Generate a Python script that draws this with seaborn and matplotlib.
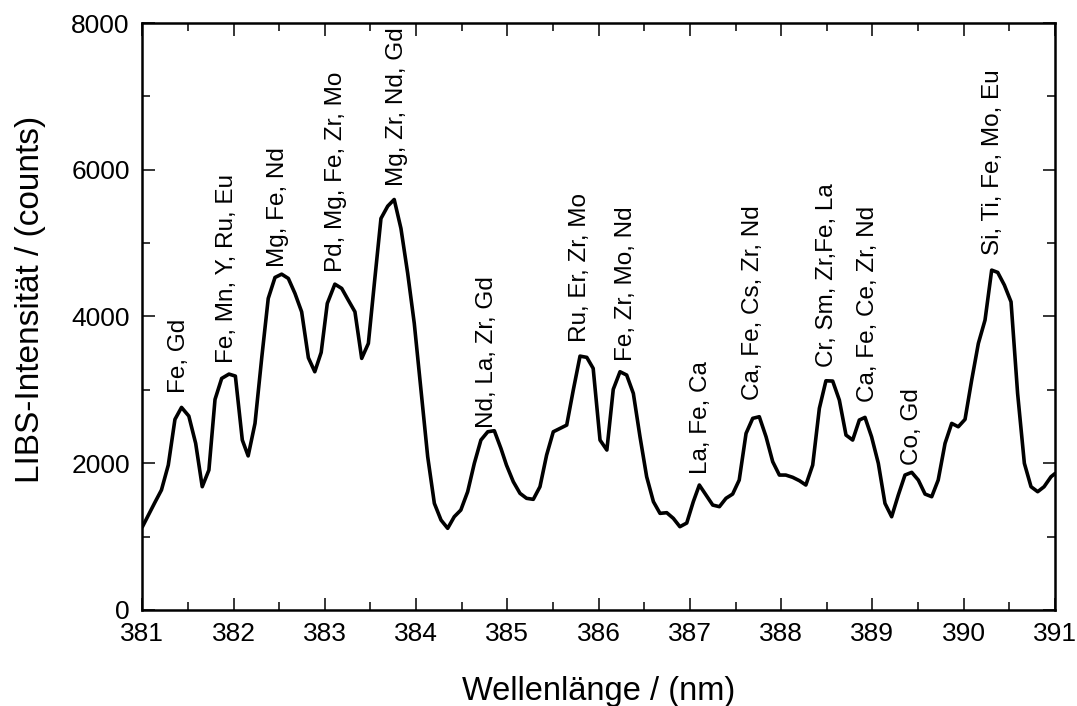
import matplotlib
matplotlib.use("Agg")
import matplotlib.pyplot as plt
import seaborn as sns
import pandas as pd
from matplotlib.ticker import MultipleLocator

wavelength = [
    381.00, 381.07, 381.14, 381.21, 381.285, 381.358, 381.43, 381.51, 381.585, 381.657,
    381.73, 381.797, 381.87, 381.95, 382.02, 382.096, 382.16, 382.235, 382.31, 382.38,
    382.454, 382.527, 382.60, 382.673, 382.746, 382.82, 382.89, 382.96, 383.027, 383.11,
    383.185, 383.257, 383.33, 383.404, 383.477, 383.545, 383.615, 383.689, 383.76, 383.834,
    383.908, 383.98, 384.054, 384.127, 384.20, 384.273, 384.346, 384.418, 384.49, 384.565,
    384.638, 384.71, 384.785, 384.857, 384.93, 384.99, 385.065, 385.138, 385.21, 385.284,
    385.357, 385.43, 385.503, 385.577, 385.65, 385.722, 385.796, 385.87, 385.94, 386.015,
    386.09, 386.16, 386.234, 386.307, 386.38, 386.453, 386.526, 386.60, 386.672, 386.746,
    386.818, 386.89, 386.965, 387.037, 387.103, 387.176, 387.25, 387.323, 387.395, 387.468,
    387.54, 387.615, 387.688, 387.76, 387.834, 387.907, 387.98, 388.05, 388.126, 388.20,
    388.27, 388.345, 388.418, 388.49, 388.564, 388.637, 388.71, 388.783, 388.856, 388.918,
    388.99, 389.064, 389.137, 389.21, 389.283, 389.356, 389.43, 389.502, 389.576, 389.649,
    389.72, 389.795, 389.868, 389.94, 390.014, 390.087, 390.16, 390.233, 390.306, 390.372,
    390.445, 390.518, 390.59, 390.664, 390.737, 390.81, 390.88, 390.956, 391.00,
]
intensity = [
    1130, 1300, 1470, 1635, 1975, 2598, 2761, 2643, 2271, 1680,
    1907, 2870, 3156, 3215, 3188, 2316, 2100, 2543, 3451, 4246,
    4532, 4577, 4519, 4314, 4064, 3437, 3247, 3510, 4178, 4441,
    4383, 4223, 4064, 3429, 3633, 4480, 5336, 5504, 5595, 5200,
    4587, 3906, 2997, 2089, 1453, 1226, 1113, 1271, 1362, 1612,
    1999, 2316, 2429, 2443, 2200, 1975, 1748, 1590, 1522, 1508,
    1680, 2112, 2429, 2475, 2520, 2997, 3460, 3443, 3293, 2316,
    2180, 3007, 3247, 3202, 2952, 2361, 1816, 1476, 1317, 1326,
    1249, 1135, 1185, 1476, 1703, 1567, 1430, 1408, 1522, 1580,
    1771, 2407, 2612, 2634, 2361, 2021, 1839, 1839, 1808, 1762,
    1703, 1975, 2748, 3124, 3120, 2861, 2384, 2316, 2589, 2625,
    2361, 1999, 1453, 1271, 1567, 1839, 1876, 1771, 1580, 1544,
    1771, 2271, 2543, 2497, 2598, 3134, 3633, 3951, 4632, 4601,
    4428, 4200, 2952, 1999, 1680, 1612, 1680, 1816, 1860,
]

peak_labels = [
    "Fe, Gd", "Fe, Mn, Y, Ru, Eu", "Mg, Fe, Nd", "Pd, Mg, Fe, Zr, Mo",
    "Mg, Zr, Nd, Gd", "Nd, La, Zr, Gd", "Ru, Er, Zr, Mo", "Fe, Zr, Mo, Nd",
    "La, Fe, Ca", "Ca, Fe, Cs, Zr, Nd", "Cr, Sm, Zr,Fe, La", "Ca, Fe, Ce, Zr, Nd",
    "Co, Gd", "Si, Ti, Fe, Mo, Eu",
]
label_x = [381.405, 381.93, 382.49, 383.12, 383.787, 384.774, 385.80, 386.30,
           387.12, 387.695, 388.50, 388.955, 389.43, 390.32]
label_y = [2960, 3370, 4680, 4610, 5777, 2480, 3656, 3397,
           1853, 2861, 3315, 2838, 1975, 4837]

x_ticks = [381, 382, 383, 384, 385, 386, 387, 388, 389, 390, 391]
y_ticks = [0, 2000, 4000, 6000, 8000]

sns.set_theme(style="ticks")
plt.rcParams["font.family"] = ["Liberation Sans", "DejaVu Sans"]
plt.rcParams["text.color"] = "black"
plt.rcParams["axes.labelcolor"] = "black"
plt.rcParams["xtick.color"] = "black"
plt.rcParams["ytick.color"] = "black"

df = pd.DataFrame({"wl": wavelength, "I": intensity})

fig = plt.figure(figsize=(10.77, 7.06), dpi=100)
ax = fig.add_axes([0.1321, 0.136, 0.8475, 0.8314])

sns.lineplot(data=df, x="wl", y="I", color="black", linewidth=2.6, ax=ax,
             sort=False, estimator=None)

for txt, lx, ly in zip(peak_labels, label_x, label_y):
    ax.text(lx, ly, txt, rotation=90, ha="center", va="bottom",
            fontsize=17.5, color="black")

ax.set_xlim(381, 391)
ax.set_ylim(0, 8000)
ax.set_xticks(x_ticks)
ax.set_yticks(y_ticks)
ax.xaxis.set_minor_locator(MultipleLocator(0.5))
ax.yaxis.set_minor_locator(MultipleLocator(1000))
ax.tick_params(which="both", direction="in", top=True, right=True,
               labeltop=False, labelright=False, color="black", labelcolor="black")
ax.tick_params(which="major", length=9, width=1.1, labelsize=19, pad=9)
ax.tick_params(which="minor", length=5.5, width=1.1)
for sp in ax.spines.values():
    sp.set_visible(True)
    sp.set_linewidth(1.8)
    sp.set_color("black")

ax.set_xlabel("Wellenlänge / (nm)", fontsize=23.5, labelpad=21)
ax.set_ylabel("LIBS-Intensität / (counts)", fontsize=24)
ax.yaxis.set_label_coords(-0.105, 0.53)

fig.savefig("out.png", dpi=100)
